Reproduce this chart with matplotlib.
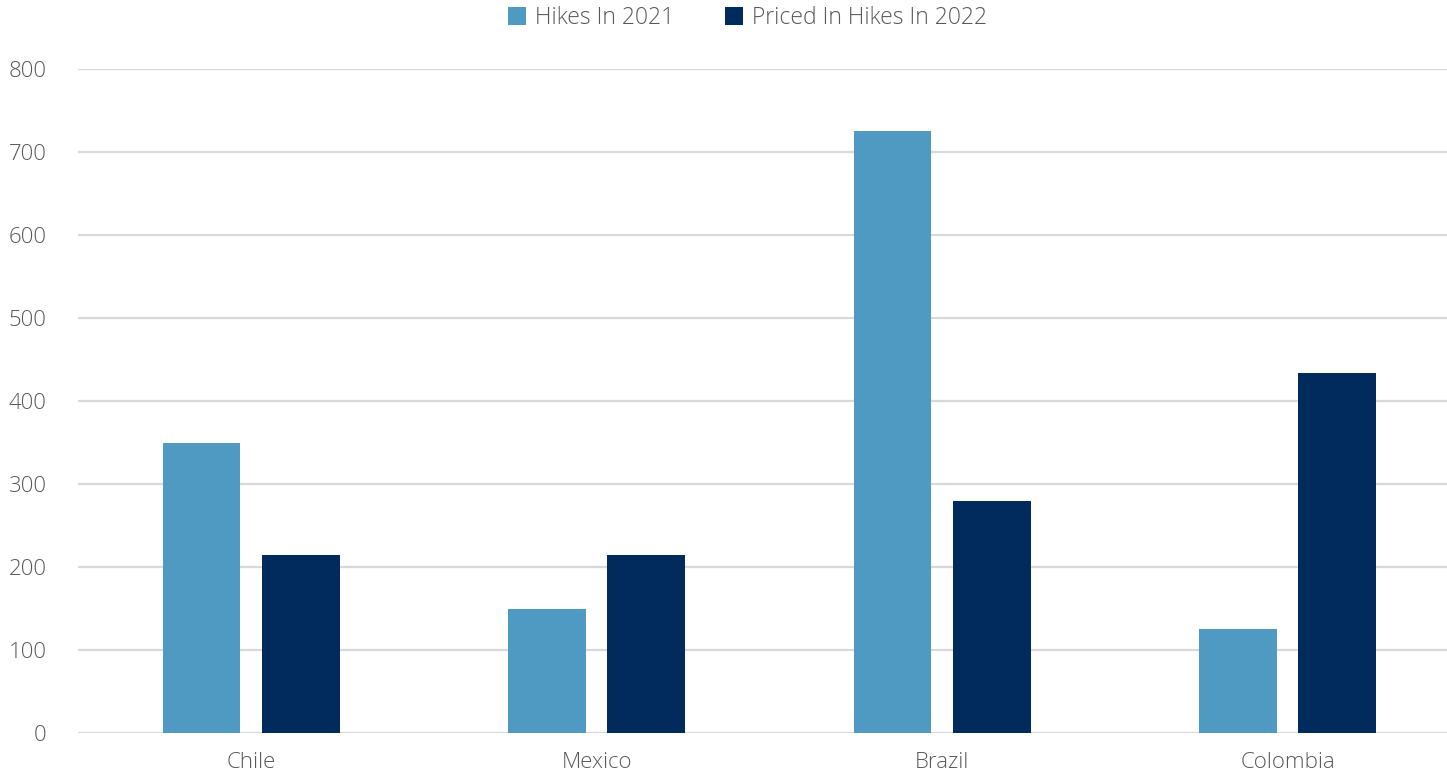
import matplotlib.pyplot as plt
import numpy as np

# data
countries = ['Chile', 'Mexico', 'Brazil', 'Colombia']
hikes_2021 = [350, 150, 725, 125]
priced_2022 = [215, 215, 280, 434]
yticks = [0, 100, 200, 300, 400, 500, 600, 700, 800]

light = '#4F9AC2'
dark = '#002B5C'
txt = '#595959'

plt.rcParams['font.family'] = ['Open Sans', 'DejaVu Sans']

fig = plt.figure(figsize=(14.47, 7.75), dpi=100)
ax = fig.add_axes([78.4 / 1447, 1 - 733 / 775, 1 - 78.4 / 1447, (733 - 69) / 775])

x = np.arange(len(countries))
w = 0.225
ax.bar(x - 0.1435, hikes_2021, w, color=light, label='Hikes In 2021', zorder=3)
ax.bar(x + 0.1435, priced_2022, w, color=dark, label='Priced In Hikes In 2022', zorder=3)

ax.set_xlim(-0.5, -0.5 + (1447 - 78.4) / 345.5)
ax.set_ylim(0, 800)
ax.set_yticks(yticks)
ax.set_xticks(x)
ax.set_xticklabels(countries)
ax.yaxis.grid(True, color='#D9D9D9', linewidth=1.6, zorder=0)
ax.tick_params(axis='both', length=0, labelsize=16, labelcolor=txt)
ax.tick_params(axis='y', pad=23)
ax.tick_params(axis='x', pad=14)
for s in ax.spines.values():
    s.set_visible(False)
for lab in ax.get_xticklabels() + ax.get_yticklabels():
    lab.set_fontweight('light')

leg = fig.legend(loc='center', bbox_to_anchor=(747.5 / 1447, 1 - 18 / 775), ncol=2,
                 frameon=False, fontsize=16.5, handlelength=0.8, handleheight=0.8,
                 handletextpad=0.4, columnspacing=2.2)
for t in leg.get_texts():
    t.set_color(txt)
    t.set_fontweight('light')

fig.savefig('out.png', dpi=100)
